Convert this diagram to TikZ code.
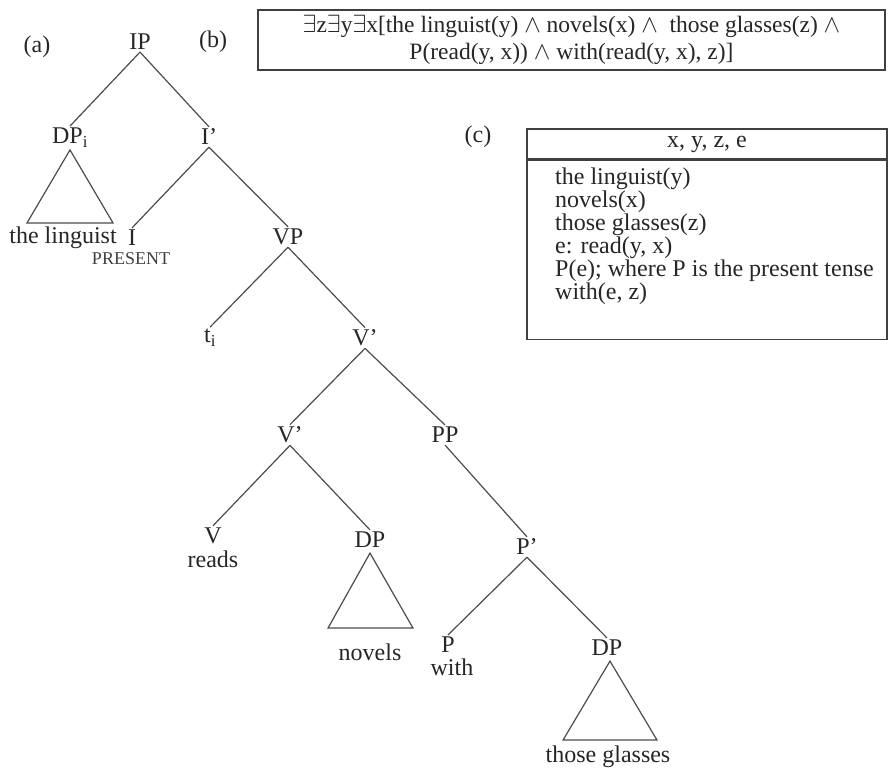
\documentclass[tikz,border=0pt]{standalone}
\usepackage{fontspec}
\setmainfont{Liberation Serif}
\begin{document}
\begin{tikzpicture}[x=1pt,y=-1pt,
  lab/.style={font=\fontsize{24}{27}\selectfont, text=black!85, inner sep=2pt},
  small/.style={font=\fontsize{18}{21}\selectfont, text=black!75, inner sep=1pt},
  br/.style={draw=black!70, line width=1.2pt},
  frame/.style={draw=black!75, line width=1.6pt}]
\useasboundingbox (0,0) rectangle (889,776);
% labels
\node[lab] (a) at (37,47) {(a)};
\node[lab] (b) at (213,42) {(b)};
\node[lab] (c) at (478,137) {(c)};
% tree nodes
\node[lab] (ip) at (140,42) {IP};
\node[lab] (dpi) at (70,138) {DP\textsubscript{i}};
\node[lab] (ib) at (209,137) {I’};
\node[lab] (ling) at (63,238) {the linguist};
\node[lab] (i) at (132,238) {I};
\node[small] (pres) at (131,259) {PRESENT};
\node[lab] (vp) at (288,237) {VP};
\node[lab] (ti) at (210,338) {t\textsubscript{i}};
\node[lab] (vb1) at (365,338) {V’};
\node[lab] (vb2) at (290,435) {V’};
\node[lab] (pp) at (445,435) {PP};
\node[lab] (v) at (213,536) {V};
\node[lab] (reads) at (213,559) {reads};
\node[lab] (dp1) at (370,540) {DP};
\node[lab] (novels) at (370,652) {novels};
\node[lab] (pb) at (527,547) {P’};
\node[lab] (p) at (448,645) {P};
\node[lab] (with) at (452,667) {with};
\node[lab] (dp2) at (607,648) {DP};
\node[lab] (glasses) at (608,757) {those glasses};
% branches
\draw[br] (ip.south) -- (dpi.north);
\draw[br] (ip.south) -- (ib.north);
\draw[br] (ib.south) -- (i.north);
\draw[br] (ib.south) -- (vp.north);
\draw[br] (vp.south) -- (ti.north);
\draw[br] (vp.south) -- (vb1.north);
\draw[br] (vb1.south) -- (vb2.north);
\draw[br] (vb1.south) -- (pp.north);
\draw[br] (vb2.south) -- (v.north);
\draw[br] (vb2.south) -- (dp1.north);
\draw[br] (pp.south) -- (pb.north);
\draw[br] (pb.south) -- (p.north);
\draw[br] (pb.south) -- (dp2.north);
% triangles
\draw[br] (dpi.south) ++(0,0) -- ++(-43,73) -- ++(86,0) -- cycle;
\draw[br] (dp1.south) ++(0,3) -- ++(-42,75) -- ++(85,0) -- cycle;
\draw[br] (dp2.south) ++(3,3) -- ++(-47,79) -- ++(94,0) -- cycle;
% box (b)
\node[frame, lab, font=\fontsize{23.5}{27}\selectfont, minimum width=627pt, minimum height=60pt, align=center] (formula) at (571.5,40)
  {$\exists$z$\exists$y$\exists$x[the linguist(y) $\wedge$ novels(x) $\wedge$\ \ those glasses(z) $\wedge$\\
   P(read(y, x)) $\wedge$ with(read(y, x), z)]};
% box (c)
\node[frame, lab, minimum width=360pt, minimum height=30pt] (hdr) at (707,144) {x, y, z, e};
\node[frame, minimum width=360pt, minimum height=179pt, anchor=north] (body) at (hdr.south) {};
\node[lab, anchor=north west, align=left, font=\fontsize{24}{23}\selectfont] (drs) at (553,166)
  {the linguist(y)\\novels(x)\\those glasses(z)\\e: read(y, x)\\P(e); where P is the present tense\\with(e, z)};
\end{tikzpicture}
\end{document}
